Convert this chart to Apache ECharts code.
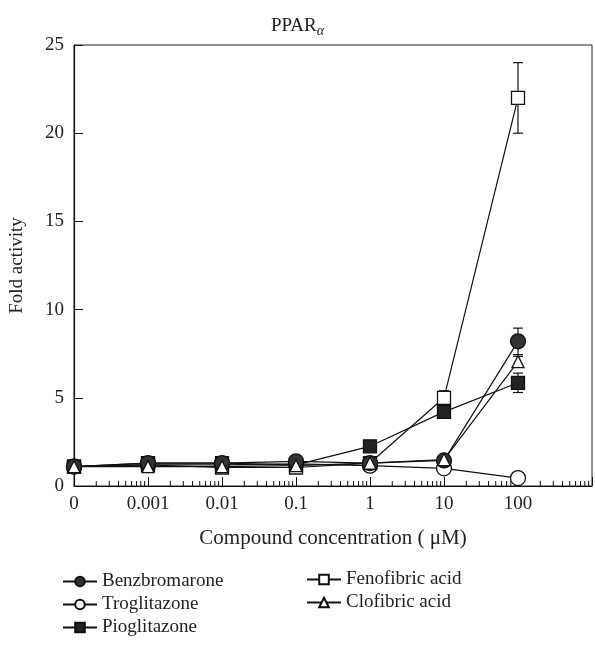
<!DOCTYPE html>
<html>
<head>
<meta charset="utf-8">
<script src="https://cdn.jsdelivr.net/npm/echarts@6/dist/echarts.min.js"></script>
<style>
  html, body { margin: 0; padding: 0; background: #fff; }
  #container { width: 595px; height: 653px; }
</style>
</head>
<body>
<div id="container"></div>
<script>
// concentrations, 0 is placed at 1e-4 on the log axis
var conc = [0.0001, 0.001, 0.01, 0.1, 1, 10, 100];
var tickLabels = ['0', '0.001', '0.01', '0.1', '1', '10', '100', ''];

var benzbromarone = [1.1, 1.3, 1.3, 1.4, 1.3, 1.45, 8.2];
var troglitazone  = [1.1, 1.2, 1.2, 1.25, 1.15, 1.0, 0.45];
var pioglitazone  = [1.1, 1.3, 1.3, 1.2, 2.25, 4.2, 5.85];
var fenofibric    = [1.1, 1.2, 1.05, 1.05, 1.3, 5.0, 22.0];
var clofibric     = [1.1, 1.1, 1.1, 1.15, 1.3, 1.5, 7.05];

// error bars: [series value index, +/- error]
var benzErr  = [[6, 0.75]];
var pioErr   = [[5, 0.2], [6, 0.55]];
var fenoErr  = [[5, 0.4], [6, 2.0]];
var clofErr  = [[6, 0.3]];

var font = 'Liberation Serif';

function pts(vals) {
    return vals.map(function (v, i) { return [conc[i], v]; });
}
function errPts(vals, errs) {
    return errs.map(function (e) { return [conc[e[0]], vals[e[0]] - e[1], vals[e[0]] + e[1]]; });
}

// minor ticks 2..9 in each decade
var minorTicks = [];
for (var d = -4; d < 3; d++) {
    for (var m = 2; m <= 9; m++) minorTicks.push([m * Math.pow(10, d), 0]);
}

function errorBar(params, api) {
    var x = api.value(0);
    var lo = api.coord([x, api.value(1)]);
    var hi = api.coord([x, api.value(2)]);
    var st = { stroke: '#111', lineWidth: 1.2 };
    return {
        type: 'group',
        children: [
            { type: 'line', shape: { x1: lo[0], y1: lo[1], x2: hi[0], y2: hi[1] }, style: st },
            { type: 'line', shape: { x1: lo[0] - 5, y1: lo[1], x2: lo[0] + 5, y2: lo[1] }, style: st },
            { type: 'line', shape: { x1: hi[0] - 5, y1: hi[1], x2: hi[0] + 5, y2: hi[1] }, style: st }
        ]
    };
}

function lineSeries(name, vals, symbol, size, fill) {
    return {
        name: name,
        type: 'line',
        data: pts(vals),
        symbol: symbol,
        symbolSize: size,
        showAllSymbol: true,
        z: 5,
        lineStyle: { color: '#111', width: 1.2 },
        itemStyle: { color: fill, borderColor: '#111', borderWidth: 1.3 }
    };
}

function errSeries(vals, errs) {
    return {
        type: 'custom',
        data: errPts(vals, errs),
        renderItem: errorBar,
        z: 3,
        silent: true
    };
}

var legendText = { fontFamily: font, fontSize: 19, color: '#222' };

var dom = document.getElementById('container');
var myChart = echarts.init(dom);
var option = {
    animation: false,
    backgroundColor: '#fff',
    textStyle: { fontFamily: font },
    title: {
        text: 'PPAR{a|α}',
        left: 'center',
        top: 10,
        textStyle: {
            fontFamily: font, fontSize: 19, fontWeight: 'normal', color: '#222',
            rich: { a: { fontFamily: font, fontSize: 14, fontStyle: 'italic', color: '#222', padding: [9, 0, 0, 0] } }
        }
    },
    grid: {
        left: 73, right: 1, top: 45, bottom: 167,
        show: true, borderColor: '#222', borderWidth: 1
    },
    legend: [{
        orient: 'vertical',
        left: 57,
        top: 567,
        itemWidth: 34,
        itemHeight: 12,
        itemGap: 4,
        data: ['Benzbromarone', 'Troglitazone', 'Pioglitazone'],
        textStyle: legendText
    }, {
        orient: 'vertical',
        left: 301,
        top: 565,
        itemWidth: 34,
        itemHeight: 12,
        itemGap: 4,
        data: ['Fenofibric acid', 'Clofibric acid'],
        textStyle: legendText
    }],
    xAxis: {
        type: 'log',
        logBase: 10,
        min: 0.0001,
        max: 1000,
        splitNumber: 7,
        name: 'Compound concentration ( μM)',
        nameLocation: 'middle',
        nameGap: 42,
        nameTextStyle: { fontFamily: font, fontSize: 21, color: '#222' },
        axisLine: { lineStyle: { color: '#111', width: 1.2 } },
        axisTick: { inside: true, length: 9, lineStyle: { color: '#111' } },
        splitLine: { show: false },
        axisLabel: {
            fontFamily: font, fontSize: 19, color: '#222', margin: 9,
            formatter: function (v) {
                var k = Math.round(Math.log(v) / Math.LN10) + 4;
                return tickLabels[k] !== undefined ? tickLabels[k] : '';
            }
        }
    },
    yAxis: {
        type: 'value',
        min: 0,
        max: 25,
        interval: 5,
        name: 'Fold activity',
        nameLocation: 'middle',
        nameGap: 47,
        nameTextStyle: { fontFamily: font, fontSize: 19, color: '#222' },
        axisLine: { show: true, lineStyle: { color: '#111', width: 1.2 } },
        axisTick: { show: true, inside: true, length: 9, lineStyle: { color: '#111' } },
        splitLine: { show: false },
        axisLabel: { fontFamily: font, fontSize: 19, color: '#222', margin: 10 }
    },
    series: [
        {
            type: 'custom',
            data: minorTicks,
            silent: true,
            z: 2,
            renderItem: function (params, api) {
                var p = api.coord([api.value(0), 0]);
                return { type: 'line', shape: { x1: p[0], y1: p[1], x2: p[0], y2: p[1] - 5 }, style: { stroke: '#111', lineWidth: 1 } };
            }
        },
        errSeries(benzbromarone, benzErr),
        errSeries(pioglitazone, pioErr),
        errSeries(fenofibric, fenoErr),
        errSeries(clofibric, clofErr),
        lineSeries('Troglitazone', troglitazone, 'circle', 15, '#fff'),
        lineSeries('Fenofibric acid', fenofibric, 'rect', 13, '#fff'),
        lineSeries('Pioglitazone', pioglitazone, 'rect', 13, '#222'),
        lineSeries('Benzbromarone', benzbromarone, 'circle', 15, '#333'),
        lineSeries('Clofibric acid', clofibric, 'triangle', 12, '#fff')
    ]
};
myChart.setOption(option, true);
</script>
</body>
</html>
